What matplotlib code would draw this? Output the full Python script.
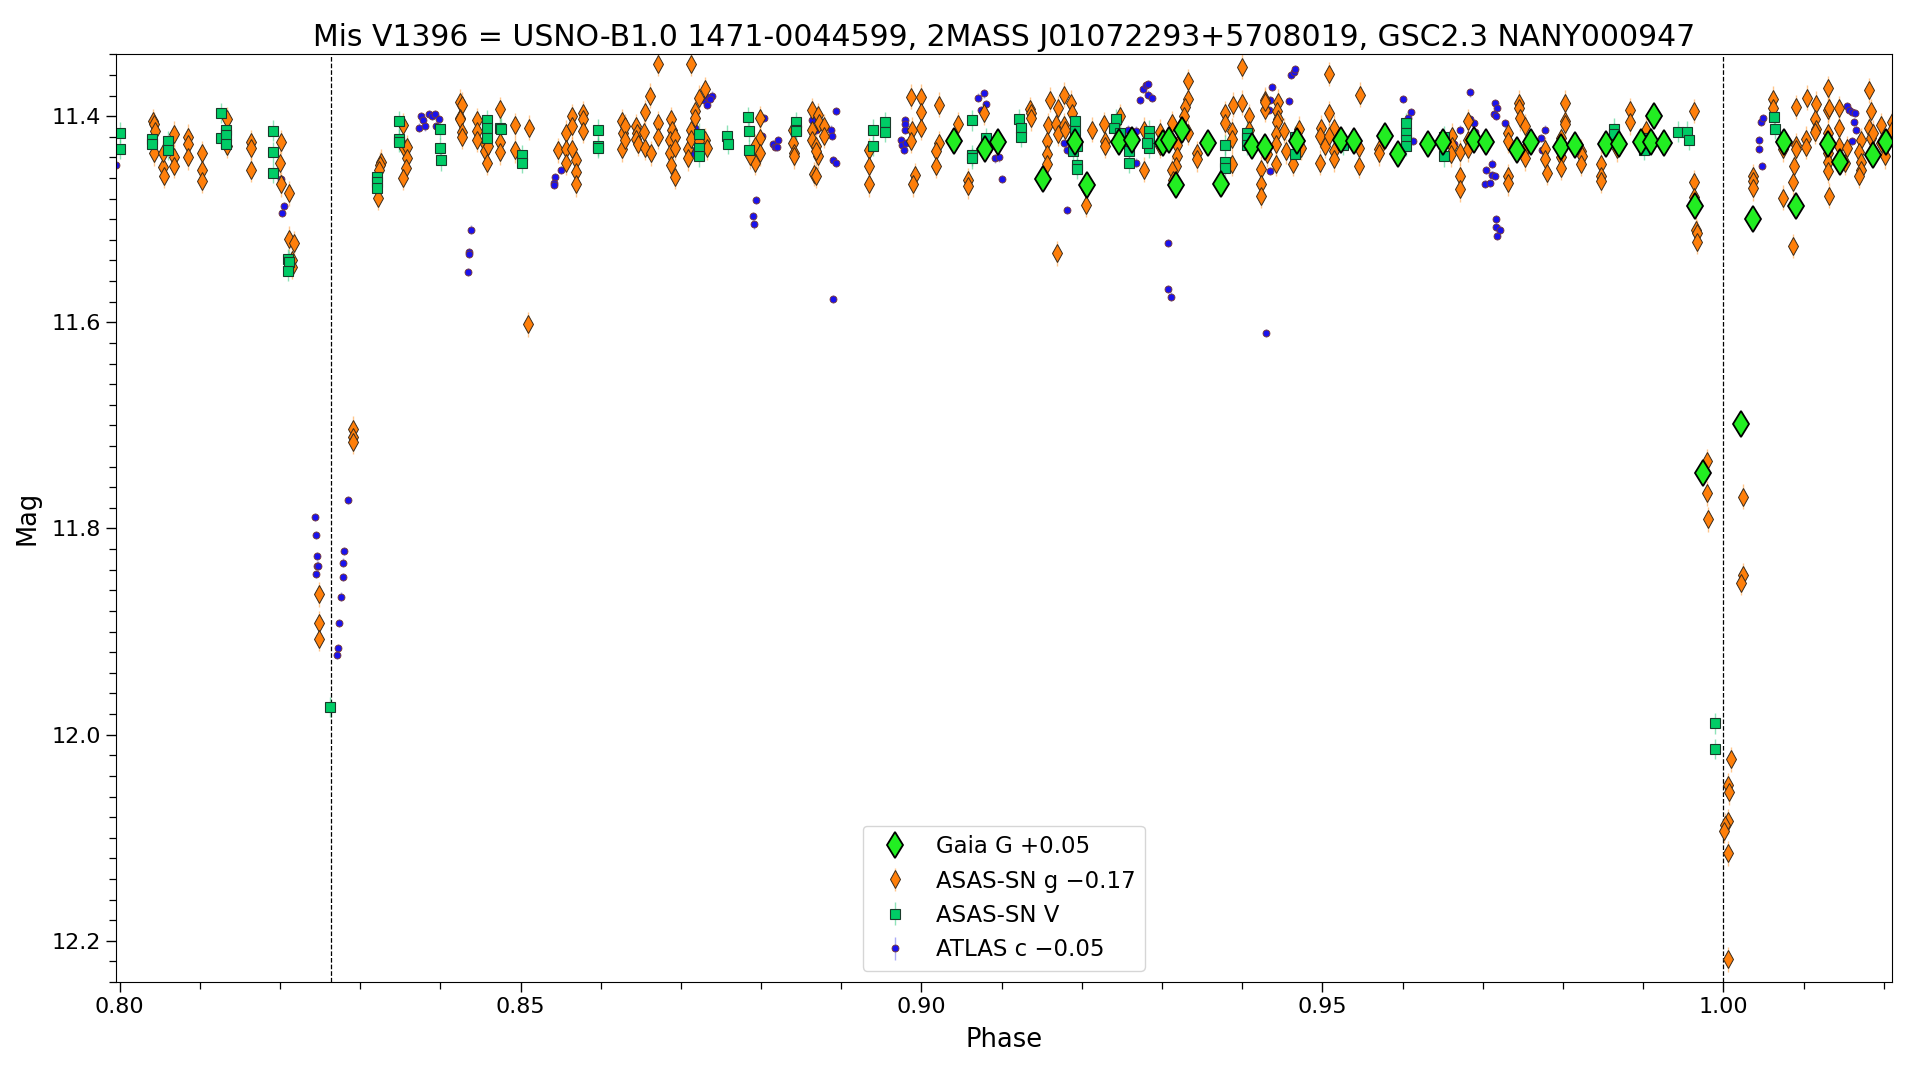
import matplotlib.pyplot as plt
import numpy as np
from matplotlib.ticker import MultipleLocator

title = "Mis V1396 = USNO-B1.0 1471-0044599, 2MASS J01072293+5708019, GSC2.3 NANY000947"
eclipse_phases = [0.8264, 1.0]  # dashed markers for the minima

# (phase, mag)
gaia_g = [
    (0.9041, 11.424), (0.9079, 11.432), (0.9095, 11.425), (0.9152, 11.461), (0.9191, 11.425),
    (0.9207, 11.467), (0.9246, 11.425), (0.9262, 11.423), (0.9301, 11.426), (0.9309, 11.423),
    (0.9325, 11.413), (0.9318, 11.467), (0.9357, 11.426), (0.9373, 11.466), (0.9412, 11.429),
    (0.9428, 11.430), (0.9468, 11.424), (0.9523, 11.423), (0.9539, 11.424), (0.9578, 11.419),
    (0.9594, 11.437), (0.9632, 11.427), (0.9650, 11.425), (0.9689, 11.423), (0.9704, 11.425),
    (0.9743, 11.433), (0.9760, 11.425), (0.9798, 11.430), (0.9815, 11.428), (0.9854, 11.427),
    (0.9870, 11.427), (0.9897, 11.425), (0.9910, 11.425), (0.9913, 11.400), (0.9926, 11.426),
    (0.9964, 11.487), (0.9974, 11.746), (1.0022, 11.699), (1.0037, 11.500), (1.0075, 11.425),
    (1.0091, 11.487), (1.0131, 11.427), (1.0146, 11.444), (1.0186, 11.438), (1.0203, 11.425),
]

asassn_g = [
    (0.8042, 11.405), (0.8043, 11.408), (0.8044, 11.414), (0.8043, 11.436), (0.8054, 11.449),
    (0.8055, 11.458), (0.8054, 11.436), (0.8068, 11.417), (0.8068, 11.440), (0.8068, 11.448),
    (0.8085, 11.420), (0.8085, 11.427), (0.8085, 11.440), (0.8103, 11.436), (0.8103, 11.452),
    (0.8103, 11.463), (0.8134, 11.403), (0.8134, 11.429), (0.8164, 11.425), (0.8164, 11.431),
    (0.8164, 11.452), (0.8201, 11.425), (0.8200, 11.445), (0.8201, 11.466), (0.8211, 11.475),
    (0.8211, 11.519), (0.8217, 11.523), (0.8215, 11.540), (0.8215, 11.546),
    (0.8249, 11.864), (0.8249, 11.892), (0.8249, 11.907),
    (0.8291, 11.703), (0.8291, 11.711), (0.8291, 11.716),
    (0.8326, 11.444), (0.8325, 11.447), (0.8324, 11.452), (0.8322, 11.479), (0.8353, 11.409),
    (0.8355, 11.431), (0.8358, 11.430), (0.8358, 11.441), (0.8357, 11.450), (0.8353, 11.460),
    (0.8425, 11.386), (0.8427, 11.389), (0.8424, 11.402), (0.8425, 11.403), (0.8427, 11.415),
    (0.8427, 11.420), (0.8446, 11.404), (0.8446, 11.414), (0.8446, 11.423), (0.8456, 11.427),
    (0.8456, 11.434), (0.8458, 11.445), (0.8459, 11.429), (0.8475, 11.393), (0.8475, 11.425),
    (0.8475, 11.435), (0.8493, 11.409), (0.8493, 11.433), (0.8510, 11.411), (0.8509, 11.602),
    (0.8547, 11.433), (0.8557, 11.416), (0.8557, 11.432), (0.8557, 11.445), (0.8564, 11.400),
    (0.8564, 11.410), (0.8564, 11.432), (0.8569, 11.443), (0.8569, 11.454), (0.8569, 11.466),
    (0.8578, 11.397), (0.8578, 11.403), (0.8578, 11.414), (0.8627, 11.405), (0.8628, 11.416),
    (0.8627, 11.432), (0.8630, 11.410), (0.8630, 11.423), (0.8644, 11.410), (0.8645, 11.416),
    (0.8644, 11.422), (0.8647, 11.427), (0.8654, 11.415), (0.8655, 11.396), (0.8655, 11.431),
    (0.8662, 11.380), (0.8663, 11.436), (0.8672, 11.349), (0.8672, 11.407), (0.8672, 11.420),
    (0.8688, 11.403), (0.8689, 11.413), (0.8687, 11.423), (0.8687, 11.436), (0.8688, 11.447),
    (0.8692, 11.459), (0.8693, 11.420), (0.8693, 11.431), (0.8713, 11.349), (0.8709, 11.432),
    (0.8709, 11.441), (0.8712, 11.413), (0.8713, 11.422), (0.8717, 11.395), (0.8718, 11.402),
    (0.8730, 11.374), (0.8722, 11.382), (0.8730, 11.423), (0.8732, 11.431), (0.8722, 11.424),
    (0.8799, 11.402), (0.8798, 11.421), (0.8793, 11.429), (0.8799, 11.436), (0.8792, 11.445),
    (0.8786, 11.439), (0.8840, 11.413), (0.8840, 11.426), (0.8841, 11.436), (0.8841, 11.439),
    (0.8863, 11.394), (0.8871, 11.399), (0.8872, 11.407), (0.8879, 11.410), (0.8879, 11.419),
    (0.8863, 11.413), (0.8863, 11.423), (0.8868, 11.429), (0.8871, 11.439), (0.8866, 11.456),
    (0.8869, 11.458), (0.8869, 11.434), (0.8934, 11.433), (0.8934, 11.448), (0.8934, 11.466),
    (0.8987, 11.381), (0.9000, 11.381), (0.9000, 11.396), (0.9000, 11.411), (0.8988, 11.413),
    (0.8987, 11.424), (0.8992, 11.457), (0.8990, 11.466), (0.9022, 11.389), (0.9022, 11.426),
    (0.9018, 11.434), (0.9018, 11.448), (0.9046, 11.408), (0.9058, 11.462), (0.9058, 11.468),
    (0.9078, 11.397), (0.9135, 11.393), (0.9137, 11.397), (0.9137, 11.402), (0.9160, 11.384),
    (0.9170, 11.392), (0.9178, 11.379), (0.9187, 11.387), (0.9188, 11.397), (0.9158, 11.409),
    (0.9168, 11.408), (0.9170, 11.417), (0.9156, 11.424), (0.9156, 11.437), (0.9156, 11.446),
    (0.9178, 11.409), (0.9179, 11.413), (0.9205, 11.471), (0.9205, 11.486), (0.9169, 11.533),
    (0.9213, 11.413), (0.9228, 11.408), (0.9229, 11.424), (0.9229, 11.429), (0.9247, 11.400),
    (0.9278, 11.413), (0.9278, 11.452), (0.9298, 11.415), (0.9297, 11.429), (0.9312, 11.407),
    (0.9319, 11.428), (0.9319, 11.439), (0.9318, 11.448), (0.9313, 11.452), (0.9314, 11.462),
    (0.9332, 11.366), (0.9332, 11.383), (0.9328, 11.391), (0.9327, 11.400), (0.9332, 11.416),
    (0.9343, 11.436), (0.9343, 11.442), (0.9379, 11.397), (0.9379, 11.407), (0.9387, 11.414),
    (0.9387, 11.422), (0.9388, 11.389), (0.9400, 11.387), (0.9400, 11.352), (0.9387, 11.446),
    (0.9409, 11.400), (0.9409, 11.413), (0.9423, 11.451), (0.9423, 11.466), (0.9423, 11.477),
    (0.9428, 11.384), (0.9429, 11.394), (0.9429, 11.386), (0.9431, 11.437), (0.9445, 11.386),
    (0.9443, 11.395), (0.9445, 11.403), (0.9443, 11.406), (0.9442, 11.417), (0.9442, 11.427),
    (0.9442, 11.446), (0.9452, 11.414), (0.9454, 11.434), (0.9471, 11.412), (0.9473, 11.431),
    (0.9463, 11.446), (0.9508, 11.359), (0.9508, 11.397), (0.9498, 11.411), (0.9497, 11.419),
    (0.9503, 11.429), (0.9497, 11.445), (0.9514, 11.411), (0.9514, 11.434), (0.9514, 11.442),
    (0.9508, 11.419), (0.9547, 11.379), (0.9546, 11.431), (0.9546, 11.448), (0.9570, 11.432),
    (0.9570, 11.436), (0.9661, 11.419), (0.9661, 11.429), (0.9660, 11.437), (0.9671, 11.435),
    (0.9671, 11.458), (0.9671, 11.471), (0.9681, 11.405), (0.9682, 11.423), (0.9682, 11.432),
    (0.9731, 11.416), (0.9731, 11.424), (0.9732, 11.458), (0.9732, 11.465), (0.9745, 11.387),
    (0.9745, 11.392), (0.9747, 11.402), (0.9752, 11.410), (0.9753, 11.432), (0.9753, 11.441),
    (0.9778, 11.432), (0.9778, 11.442), (0.9780, 11.455), (0.9803, 11.387), (0.9803, 11.405),
    (0.9802, 11.408), (0.9797, 11.421), (0.9797, 11.440), (0.9797, 11.450), (0.9823, 11.434),
    (0.9824, 11.439), (0.9823, 11.446), (0.9848, 11.446), (0.9847, 11.458), (0.9848, 11.463),
    (0.9867, 11.432), (0.9884, 11.394), (0.9884, 11.406), (0.9903, 11.413), (0.9963, 11.395),
    (0.9963, 11.464), (0.9963, 11.478), (0.9966, 11.510), (0.9967, 11.513), (0.9967, 11.522),
    (0.9979, 11.735), (0.9979, 11.766), (0.9981, 11.791), (1.0024, 11.769), (1.0024, 11.845),
    (1.0022, 11.853), (1.0009, 12.024), (1.0006, 12.049), (1.0007, 12.056), (1.0006, 12.084),
    (1.0002, 12.088), (1.0001, 12.093), (1.0006, 12.115), (1.0006, 12.218),
    (1.0037, 11.458), (1.0037, 11.463), (1.0037, 11.470), (1.0062, 11.383), (1.0062, 11.392),
    (1.0074, 11.432), (1.0074, 11.479), (1.0090, 11.391), (1.0090, 11.428), (1.0090, 11.432),
    (1.0088, 11.448), (1.0087, 11.464), (1.0087, 11.526), (1.0104, 11.382), (1.0115, 11.388),
    (1.0114, 11.403), (1.0116, 11.412), (1.0114, 11.415), (1.0103, 11.422), (1.0103, 11.430),
    (1.0130, 11.373), (1.0130, 11.394), (1.0132, 11.392), (1.0130, 11.416), (1.0130, 11.436),
    (1.0131, 11.444), (1.0130, 11.453), (1.0132, 11.477), (1.0144, 11.392), (1.0144, 11.411),
    (1.0144, 11.429), (1.0152, 11.445), (1.0154, 11.431), (1.0181, 11.375), (1.0184, 11.395),
    (1.0181, 11.411), (1.0184, 11.421), (1.0186, 11.416), (1.0171, 11.423), (1.0169, 11.435),
    (1.0171, 11.444), (1.0171, 11.452), (1.0169, 11.458), (1.0196, 11.409), (1.0196, 11.426),
    (1.0201, 11.439), (1.0210, 11.406), (1.0210, 11.413),
]

asassn_v = [
    (0.8000, 11.416), (0.8000, 11.432), (0.8040, 11.422), (0.8040, 11.427), (0.8060, 11.424),
    (0.8060, 11.433), (0.8126, 11.397), (0.8126, 11.421), (0.8133, 11.413), (0.8133, 11.418),
    (0.8133, 11.427), (0.8191, 11.414), (0.8191, 11.435), (0.8191, 11.455), (0.8210, 11.539),
    (0.8211, 11.541), (0.8210, 11.550), (0.8263, 11.973), (0.8321, 11.459), (0.8321, 11.464),
    (0.8321, 11.470), (0.8349, 11.405), (0.8349, 11.422), (0.8349, 11.425), (0.8399, 11.412),
    (0.8400, 11.431), (0.8401, 11.443), (0.8458, 11.404), (0.8458, 11.411), (0.8458, 11.421),
    (0.8475, 11.411), (0.8476, 11.412), (0.8502, 11.438), (0.8502, 11.445), (0.8597, 11.413),
    (0.8597, 11.429), (0.8597, 11.431), (0.8723, 11.417), (0.8722, 11.431), (0.8723, 11.439),
    (0.8758, 11.419), (0.8759, 11.427), (0.8784, 11.401), (0.8785, 11.414), (0.8785, 11.433),
    (0.8844, 11.406), (0.8844, 11.413), (0.8843, 11.414), (0.8939, 11.413), (0.8939, 11.429),
    (0.8954, 11.406), (0.8954, 11.415), (0.9063, 11.404), (0.9063, 11.438), (0.9063, 11.441),
    (0.9081, 11.421), (0.9081, 11.430), (0.9122, 11.403), (0.9124, 11.411), (0.9124, 11.420),
    (0.9191, 11.405), (0.9192, 11.414), (0.9194, 11.429), (0.9189, 11.434), (0.9194, 11.447),
    (0.9194, 11.451), (0.9242, 11.403), (0.9240, 11.411), (0.9248, 11.416), (0.9259, 11.426),
    (0.9259, 11.434), (0.9259, 11.445), (0.9284, 11.414), (0.9284, 11.421), (0.9284, 11.431),
    (0.9281, 11.426), (0.9379, 11.428), (0.9379, 11.444), (0.9379, 11.450), (0.9406, 11.416),
    (0.9406, 11.421), (0.9406, 11.428), (0.9466, 11.437), (0.9466, 11.420), (0.9526, 11.428),
    (0.9604, 11.407), (0.9604, 11.416), (0.9604, 11.423), (0.9604, 11.429), (0.9651, 11.420),
    (0.9651, 11.439), (0.9864, 11.412), (0.9864, 11.417), (0.9901, 11.421), (0.9901, 11.433),
    (0.9944, 11.415), (0.9955, 11.415), (0.9957, 11.423), (0.9989, 11.989), (0.9989, 12.014),
    (1.0063, 11.401), (1.0064, 11.412),
]

atlas_c = [
    (0.7995, 11.447), (0.8201, 11.461), (0.8205, 11.487), (0.8203, 11.494),
    (0.8244, 11.789), (0.8245, 11.806), (0.8246, 11.827), (0.8246, 11.836), (0.8248, 11.836),
    (0.8245, 11.844), (0.8285, 11.772), (0.8280, 11.822), (0.8279, 11.833), (0.8279, 11.847),
    (0.8276, 11.866), (0.8274, 11.892), (0.8272, 11.916), (0.8271, 11.923),
    (0.8376, 11.400), (0.8378, 11.404), (0.8373, 11.411), (0.8381, 11.410), (0.8386, 11.398),
    (0.8389, 11.400), (0.8393, 11.398), (0.8398, 11.403), (0.8395, 11.410), (0.8438, 11.510),
    (0.8436, 11.532), (0.8436, 11.534), (0.8435, 11.551), (0.8543, 11.459), (0.8542, 11.465),
    (0.8542, 11.467), (0.8550, 11.452), (0.8717, 11.411), (0.8713, 11.433), (0.8712, 11.437),
    (0.8729, 11.384), (0.8733, 11.381), (0.8739, 11.380), (0.8736, 11.383), (0.8733, 11.389),
    (0.8803, 11.402), (0.8801, 11.419), (0.8794, 11.481), (0.8790, 11.497), (0.8791, 11.505),
    (0.8815, 11.427), (0.8817, 11.430), (0.8821, 11.423), (0.8820, 11.430), (0.8863, 11.404),
    (0.8869, 11.413), (0.8893, 11.395), (0.8887, 11.413), (0.8888, 11.419), (0.8890, 11.443),
    (0.8893, 11.445), (0.8890, 11.577), (0.8979, 11.404), (0.8980, 11.408), (0.8980, 11.413),
    (0.8975, 11.423), (0.8976, 11.428), (0.8981, 11.426), (0.8978, 11.433), (0.9071, 11.382),
    (0.9078, 11.378), (0.9081, 11.388), (0.9074, 11.394), (0.9092, 11.441), (0.9097, 11.440),
    (0.9101, 11.461), (0.9178, 11.426), (0.9181, 11.433), (0.9181, 11.491), (0.9257, 11.413),
    (0.9268, 11.414), (0.9267, 11.445), (0.9273, 11.384), (0.9276, 11.374), (0.9280, 11.370),
    (0.9283, 11.369), (0.9283, 11.379), (0.9287, 11.382), (0.9308, 11.523), (0.9308, 11.568),
    (0.9311, 11.575), (0.9434, 11.384), (0.9433, 11.394), (0.9437, 11.372), (0.9434, 11.453),
    (0.9458, 11.385), (0.9461, 11.360), (0.9464, 11.357), (0.9466, 11.354), (0.9430, 11.610),
    (0.9601, 11.383), (0.9610, 11.396), (0.9607, 11.402), (0.9613, 11.424), (0.9671, 11.413),
    (0.9664, 11.427), (0.9684, 11.377), (0.9689, 11.407), (0.9690, 11.415), (0.9684, 11.403),
    (0.9715, 11.387), (0.9718, 11.392), (0.9714, 11.398), (0.9717, 11.400), (0.9712, 11.446),
    (0.9704, 11.452), (0.9711, 11.457), (0.9715, 11.458), (0.9703, 11.466), (0.9709, 11.465),
    (0.9717, 11.500), (0.9717, 11.508), (0.9721, 11.510), (0.9718, 11.516), (0.9728, 11.407),
    (0.9778, 11.413), (0.9773, 11.421), (0.9774, 11.433), (1.0047, 11.406), (1.0049, 11.402),
    (1.0045, 11.423), (1.0045, 11.432), (1.0048, 11.448), (1.0154, 11.390), (1.0157, 11.394),
    (1.0161, 11.396), (1.0164, 11.397), (1.0163, 11.406), (1.0166, 11.413), (1.0161, 11.424),
]

fig, ax = plt.subplots(figsize=(19.2, 10.8), dpi=100)
fig.subplots_adjust(left=0.0602, right=0.9853, top=0.9497, bottom=0.0907)


def plot_series(data, err, label, **kw):
    x, y = np.array(data).T
    return ax.errorbar(x, y, yerr=err, linestyle='none', label=label, **kw)


# back to front: ATLAS, ASAS-SN g, ASAS-SN V, Gaia
h_atlas = plot_series(atlas_c, 0.004, 'ATLAS c \u22120.05', fmt='o', ms=5, mfc='#1a12ee',
                      mec='#7a3b2e', mew=0.6, ecolor=(0.35, 0.35, 0.95, 0.5), elinewidth=1)
h_g = plot_series(asassn_g, 0.012, 'ASAS-SN g \u22120.17', fmt='d', ms=9, mfc='#ff7f0a',
                  mec='#3a2a1a', mew=0.7, ecolor=(1.0, 0.6, 0.2, 0.55), elinewidth=1)
h_v = plot_series(asassn_v, 0.01, 'ASAS-SN V', fmt='s', ms=7, mfc='#00cc66',
                  mec='#1a3a2a', mew=0.8, ecolor=(0.2, 0.8, 0.5, 0.55), elinewidth=1)
h_gaia = plot_series(gaia_g, 0.003, 'Gaia G +0.05', fmt='d', ms=13, mfc='#22ee22',
                     mec='black', mew=1.3, ecolor=(0.2, 0.8, 0.2, 0.6), elinewidth=1)

for p in eclipse_phases:
    ax.axvline(p, color='black', ls='--', lw=0.9, zorder=0)

ax.set_xlim(0.7995, 1.021)
ax.set_ylim(12.24, 11.34)
ax.xaxis.set_major_locator(MultipleLocator(0.05))
ax.xaxis.set_minor_locator(MultipleLocator(0.01))
ax.yaxis.set_major_locator(MultipleLocator(0.2))
ax.yaxis.set_minor_locator(MultipleLocator(0.02))
ax.tick_params(which='major', labelsize=16, length=7, width=1)
ax.tick_params(which='minor', length=4.8, width=0.9)

ax.set_title(title, fontsize=21.5)
ax.set_xlabel('Phase', fontsize=18.5, labelpad=7.5)
ax.set_ylabel('Mag', fontsize=18.5, labelpad=8)

ax.legend([h_gaia, h_g, h_v, h_atlas],
          ['Gaia G +0.05', 'ASAS-SN g \u22120.17', 'ASAS-SN V', 'ATLAS c \u22120.05'],
          loc='lower center', fontsize=16.5)

fig.savefig('out.png', dpi=100)
